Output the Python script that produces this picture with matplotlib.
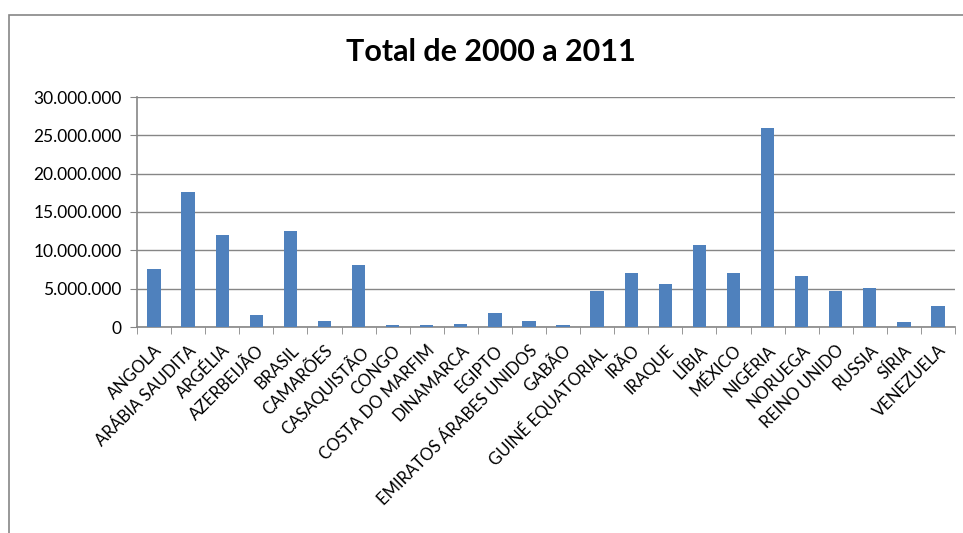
import numpy as np
import matplotlib
matplotlib.use("Agg")
import matplotlib.pyplot as plt
from matplotlib.patches import Rectangle
from matplotlib.ticker import FuncFormatter, MultipleLocator

# Data
countries = [
    "ANGOLA", "ARÁBIA SAUDITA", "ARGÉLIA", "AZERBEIJÃO", "BRASIL", "CAMARÕES",
    "CASAQUISTÃO", "CONGO", "COSTA DO MARFIM", "DINAMARCA", "EGIPTO",
    "EMIRATOS ÁRABES UNIDOS", "GABÃO", "GUINÉ EQUATORIAL", "IRÃO", "IRAQUE",
    "LÍBIA", "MÉXICO", "NIGÉRIA", "NORUEGA", "REINO UNIDO", "RUSSIA", "SÍRIA",
    "VENEZUELA",
]
totals = [
    7570000, 17570000, 12050000, 1620000, 12570000, 790000,
    8100000, 260000, 260000, 430000, 1800000,
    800000, 260000, 4700000, 7000000, 5660000,
    10660000, 7000000, 26000000, 6610000, 4700000, 5050000, 650000,
    2740000,
]
title = "Total de 2000 a 2011"

plt.rcParams['font.family'] = ['Lato', 'DejaVu Sans']
grey = '#868686'

fig = plt.figure(figsize=(9.63, 5.33), dpi=100)
ax = fig.add_axes([137 / 963, 1 - 327 / 533, (955 - 137) / 963, 230 / 533])

# outer chart frame
fig.patches.append(Rectangle((9 / 963, -0.1), 1.1, 1 - 15 / 533 + 0.1,
                             transform=fig.transFigure, fill=False,
                             edgecolor=grey, linewidth=1.2))

x = np.arange(len(countries))
ax.bar(x, totals, width=0.39, color='#4F81BD', zorder=3)

ax.set_xlim(-0.5, len(countries) - 0.5)
ax.set_ylim(0, 30000000)
ax.yaxis.set_major_locator(MultipleLocator(5000000))
ax.yaxis.set_major_formatter(FuncFormatter(lambda v, p: f"{int(v):,}".replace(",", ".")))
ax.grid(axis='y', color=grey, linewidth=1.0, zorder=0)

ax.set_xticks(x)
ax.set_xticklabels(countries, rotation=45, ha='right', rotation_mode='anchor', fontsize=12)
ax.tick_params(axis='x', which='major', length=0, pad=11)
ax.set_xticks(np.arange(-0.5, len(countries)), minor=True)
ax.tick_params(axis='x', which='minor', length=5, color=grey, direction='out')
ax.tick_params(axis='y', length=5, color=grey, labelsize=12.5, pad=6)

for s in ['top', 'right']:
    ax.spines[s].set_visible(False)
for s in ['left', 'bottom']:
    ax.spines[s].set_color(grey)
    ax.spines[s].set_linewidth(1.2)

fig.text(491 / 963, 1 - 52 / 533, title, ha='center', va='center',
         fontsize=22, fontweight='bold')

fig.savefig("out.png", dpi=100)
